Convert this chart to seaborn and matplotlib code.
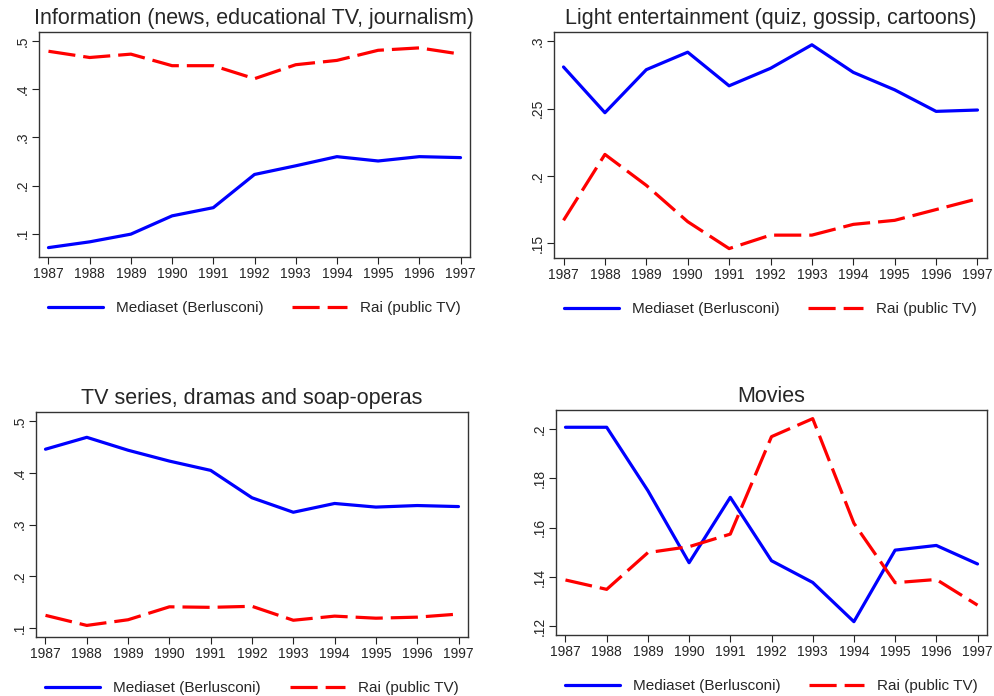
import pandas as pd
import matplotlib
matplotlib.use("Agg")
import matplotlib.pyplot as plt
from matplotlib.ticker import FuncFormatter
import seaborn as sns

sns.set_style("ticks")
plt.rcParams["font.family"] = ["Liberation Sans", "DejaVu Sans"]

years = list(range(1987, 1998))
channels = ["Mediaset (Berlusconi)", "Rai (public TV)"]

info_mediaset = [0.071, 0.083, 0.099, 0.137, 0.154, 0.223, 0.241, 0.260, 0.251, 0.260, 0.258]
info_rai = [0.479, 0.466, 0.473, 0.449, 0.449, 0.422, 0.451, 0.460, 0.481, 0.486, 0.473]

light_mediaset = [0.281, 0.247, 0.279, 0.292, 0.267, 0.280, 0.2975, 0.277, 0.264, 0.248, 0.249]
light_rai = [0.167, 0.216, 0.193, 0.166, 0.146, 0.156, 0.156, 0.164, 0.167, 0.175, 0.183]

series_mediaset = [0.446, 0.469, 0.444, 0.423, 0.405, 0.352, 0.324, 0.341, 0.334, 0.337, 0.335]
series_rai = [0.1245, 0.105, 0.116, 0.141, 0.140, 0.142, 0.115, 0.123, 0.119, 0.121, 0.127]

movies_mediaset = [0.2007, 0.2007, 0.175, 0.1458, 0.1723, 0.1466, 0.1378, 0.1219, 0.1509, 0.1528, 0.1453]
movies_rai = [0.1388, 0.135, 0.1499, 0.1523, 0.1574, 0.1969, 0.2042, 0.1618, 0.1377, 0.139, 0.1286]

panels = [
    ("Information (news, educational TV, journalism)", info_mediaset, info_rai,
     [0.1, 0.2, 0.3, 0.4, 0.5], (0.0515, 0.519)),
    ("Light entertainment (quiz, gossip, cartoons)", light_mediaset, light_rai,
     [0.15, 0.2, 0.25, 0.3], (0.139, 0.307)),
    ("TV series, dramas and soap-operas", series_mediaset, series_rai,
     [0.1, 0.2, 0.3, 0.4, 0.5], (0.0826, 0.518)),
    ("Movies", movies_mediaset, movies_rai,
     [0.12, 0.14, 0.16, 0.18, 0.2], (0.1165, 0.2077)),
]

# axes boxes in pixels: left, top, right, bottom
W, H = 995, 696
boxes = [(39, 32, 470, 257), (554, 32, 987, 258),
         (36, 412, 468, 637), (556, 410, 987, 635)]

fig = plt.figure(figsize=(W / 100, H / 100), dpi=100)
palette = {channels[0]: "#0000ff", channels[1]: "#ff0000"}
dashes = {channels[0]: "", channels[1]: (8.5, 2.5)}
stata_fmt = FuncFormatter(lambda v, _: f"{v:g}".replace("0.", ".", 1))

for (title, med, rai, yt, ylim), (l, t, r, b) in zip(panels, boxes):
    ax = fig.add_axes([l / W, 1 - b / H, (r - l) / W, (b - t) / H])
    df = pd.DataFrame({
        "year": years * 2,
        "share": med + rai,
        "channel": [channels[0]] * len(years) + [channels[1]] * len(years),
    })
    sns.lineplot(data=df, x="year", y="share", hue="channel", style="channel",
                 palette=palette, dashes=dashes, linewidth=2.3, ax=ax)
    ax.set_xlim(1986.77, 1997.23)
    ax.set_ylim(*ylim)
    ax.set_xticks(years)
    ax.set_yticks(yt)
    ax.yaxis.set_major_formatter(stata_fmt)
    ax.tick_params(axis="x", labelsize=10, length=5, color="#222222", pad=2)
    ax.tick_params(axis="y", labelsize=10, length=5, color="#222222", pad=2)
    for lab in ax.get_yticklabels():
        lab.set_rotation(90)
        lab.set_va("center")
    ax.set_xlabel("")
    ax.set_ylabel("")
    for s in ax.spines.values():
        s.set_visible(True)
        s.set_color("#333333")
        s.set_linewidth(1.0)
    ax.set_title(title, fontsize=15.5, pad=6)
    ax.legend(loc="upper center", bbox_to_anchor=(0.5, -0.135), ncol=2,
              frameon=False, fontsize=11, handlelength=3.6, columnspacing=1.9,
              handletextpad=0.85)

fig.savefig("out.png", dpi=100)
